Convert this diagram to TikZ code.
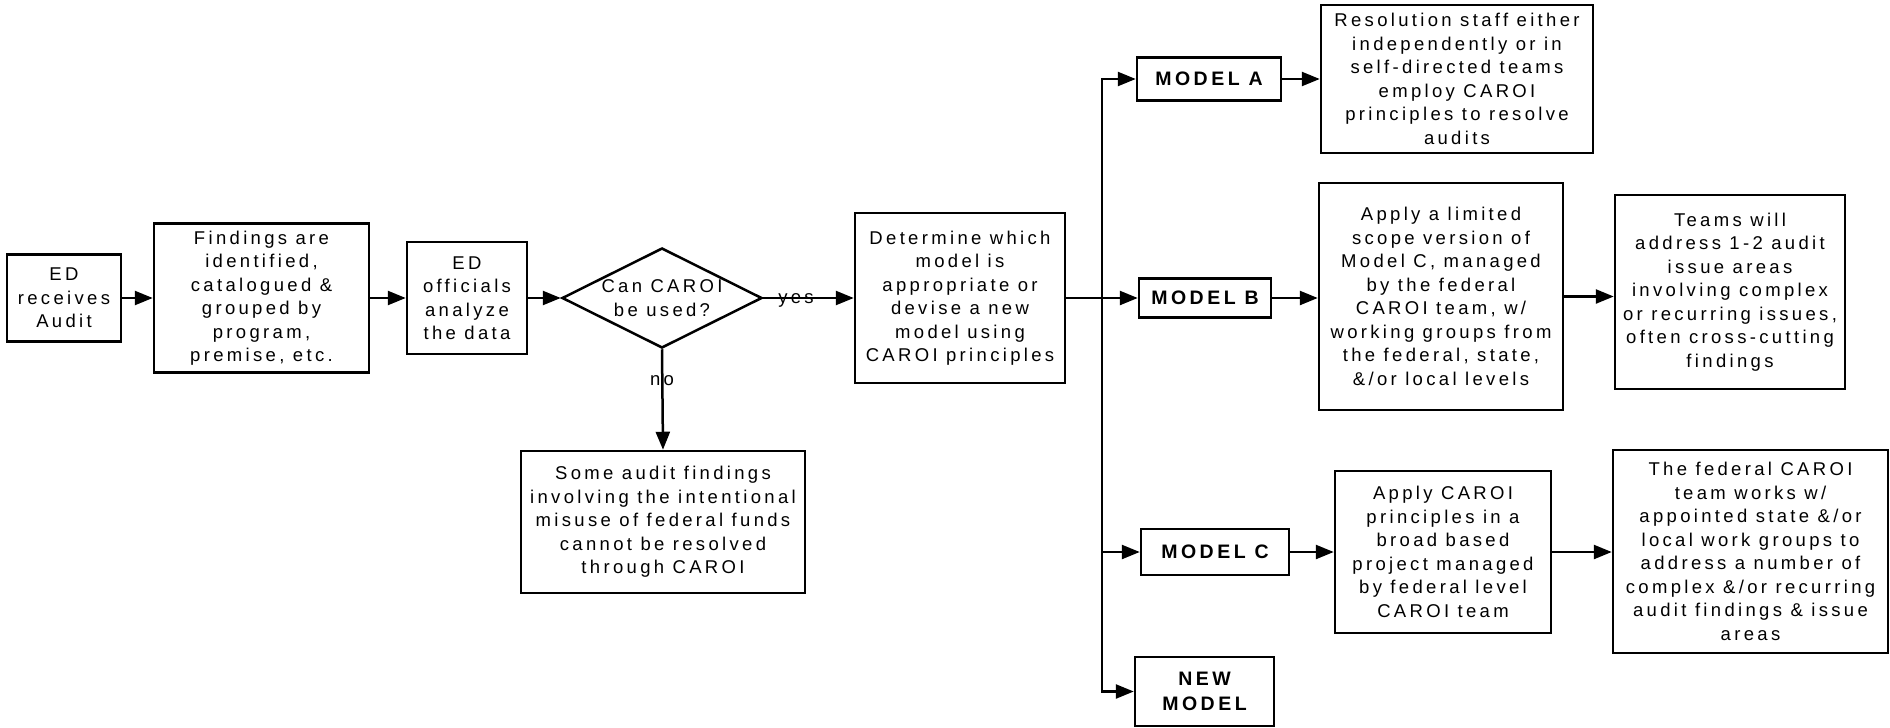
\documentclass[tikz,border=0pt]{standalone}
\usepackage{fontspec}
\setmainfont[LetterSpace=18]{Liberation Sans}
\usetikzlibrary{shapes.geometric,arrows.meta}

\begin{document}
\begin{tikzpicture}
    [%%%%%%%%%%%%%%%%%%%%%%%%%%%%%%
        x=1pt,y=-1pt,
        txt/.style={font=\fontsize{18.5}{23.5}\selectfont},
        box/.style={rectangle,draw=black,line width=2.5pt,align=center,inner sep=0pt,txt},
        modelbox/.style={box,font=\fontsize{19.5}{24.5}\selectfont\bfseries},
        decision/.style={diamond,draw=black,line width=2.5pt,align=center,inner sep=0pt,aspect=2,txt},
        arr/.style={-{Triangle[length=18pt,width=14pt]},line width=2.5pt},
        lbl/.style={inner sep=0pt,txt}
    ]%%%%%%%%%%%%%%%%%%%%%%%%%%%%%%

\useasboundingbox (0,0) rectangle (1890,728);

% main row
\node[box,minimum width=114,minimum height=87] (receive) at (64,298) {ED\\receives\\Audit};
\node[box,minimum width=215,minimum height=149] (findings) at (261.5,298) {Findings are\\identified,\\catalogued \&\\grouped by\\program,\\premise, etc.};
\node[box,minimum width=120,minimum height=112] (officials) at (467,298) {ED\\officials\\analyze\\the data};
\node[decision,minimum width=200,minimum height=100] (caroi) at (662,298) {Can CAROI\\be used?};
\node[box,minimum width=210,minimum height=170] (determine) at (960,298) {Determine which\\model is\\appropriate or\\devise a new\\model using\\CAROI principles};
\node[box,minimum width=284,minimum height=142] (misuse) at (663,522) {Some audit findings\\involving the intentional\\misuse of federal funds\\cannot be resolved\\through CAROI};

% models
\node[modelbox,minimum width=144,minimum height=43] (modela) at (1209,79) {MODEL A};
\node[modelbox,minimum width=132,minimum height=39] (modelb) at (1205,298) {MODEL B};
\node[modelbox,minimum width=148,minimum height=46] (modelc) at (1215,552) {MODEL C};
\node[modelbox,minimum width=139,minimum height=69] (newmodel) at (1204.5,691.5) {NEW\\MODEL};

\node[box,minimum width=272,minimum height=148] (resolve) at (1457,79) {Resolution staff either\\independently or in\\self-directed teams\\employ CAROI\\principles to resolve\\audits};
\node[box,minimum width=244,minimum height=227] (limited) at (1441,296.5) {Apply a limited\\scope version of\\Model C, managed\\by the federal\\CAROI team, w/\\working groups from\\the federal, state,\\\&/or local levels};
\node[box,minimum width=230,minimum height=194] (teams) at (1730,292) {Teams will\\address 1-2 audit\\issue areas\\involving complex\\or recurring issues,\\often cross-cutting\\findings};
\node[box,minimum width=216,minimum height=162] (broad) at (1443,552) {Apply CAROI\\principles in a\\broad based\\project managed\\by federal level\\CAROI team};
\node[box,minimum width=275,minimum height=203] (fedteam) at (1750.5,551.5) {The federal CAROI\\team works w/\\appointed state \&/or\\local work groups to\\address a number of\\complex \&/or recurring\\audit findings \& issue\\areas};

\coordinate (split) at (1102,298);

% connectors
\draw[arr] (receive.east) -- (findings.west);
\draw[arr] (findings.east) -- (officials.west);
\draw[arr] (officials.east) -- (caroi.west);
\draw[arr] (caroi.east) -- (determine.west);
\draw[arr] (caroi.south) -- (misuse.north);
\node[lbl] (yes) at (796,300) {yes};
\node[lbl] (no) at (662,381) {no};

\draw[arr] (determine.east) -- (modelb.west);
\draw[arr] (split) |- (modela.west);
\draw[arr] (split) |- (modelc.west);
\draw[arr] (split) |- (newmodel.west);

\draw[arr] (modela.east) -- (modela.east -| resolve.west);
\draw[arr] (modelb.east) -- (modelb.east -| limited.west);
\draw[arr] (limited.east) -- (limited.east -| teams.west);
\draw[arr] (modelc.east) -- (broad.west);
\draw[arr] (broad.east) -- (broad.east -| fedteam.west);

\end{tikzpicture}
\end{document}
